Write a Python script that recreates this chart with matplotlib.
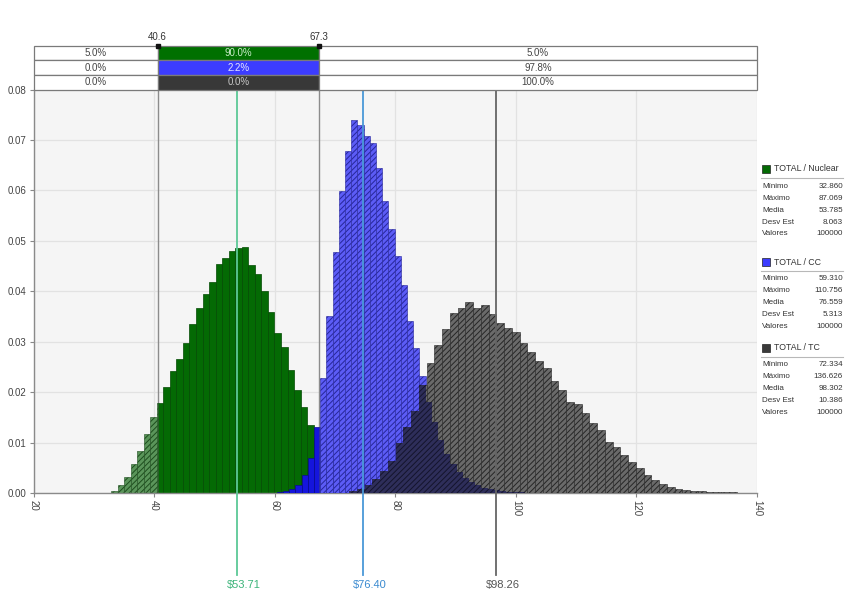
import numpy as np
import matplotlib
matplotlib.use("Agg")
import matplotlib.pyplot as plt
from matplotlib.patches import Rectangle
import matplotlib.transforms as mtransforms

plt.rcParams['font.family'] = ['Liberation Sans', 'DejaVu Sans']
plt.rcParams['hatch.linewidth'] = 0.7

# ---------------- data ----------------
series_names = ['TOTAL / Nuclear', 'TOTAL / CC', 'TOTAL / TC']
series_min = [32.860, 59.310, 72.334]
series_max = [87.069, 110.756, 136.626]
series_mean = [53.785, 76.559, 98.302]
series_std = [8.063, 5.313, 10.386]
series_count = [100000, 100000, 100000]
stat_labels = ['Mínimo', 'Máximo', 'Media', 'Desv Est', 'Valores']

nuclear_density = [0.0003, 0.0015, 0.0032, 0.0057, 0.0083, 0.0116, 0.0151, 0.0178, 0.0210, 0.0241,
                   0.0266, 0.0297, 0.0335, 0.0366, 0.0394, 0.0419, 0.0454, 0.0466, 0.0479, 0.0486,
                   0.0487, 0.0452, 0.0435, 0.0400, 0.0358, 0.0318, 0.0290, 0.0244, 0.0204, 0.0171,
                   0.0135, 0.0110, 0.0090, 0.0072, 0.0056, 0.0043, 0.0032, 0.0024, 0.0017, 0.0012,
                   0.0008, 0.0006, 0.0004, 0.0003, 0.0002, 0.0001, 0.0001, 0.00005, 0.00003, 0.00002]
cc_density = [0.00005, 0.0001, 0.0003, 0.0007, 0.0016, 0.0036, 0.0069, 0.0130, 0.0228, 0.0351,
              0.0477, 0.0598, 0.0679, 0.0740, 0.0729, 0.0707, 0.0694, 0.0644, 0.0578, 0.0524,
              0.0469, 0.0413, 0.0341, 0.0288, 0.0231, 0.0180, 0.0140, 0.0105, 0.0078, 0.0057,
              0.0041, 0.0030, 0.0021, 0.0015, 0.0010, 0.0007, 0.0005, 0.0003, 0.0002, 0.00015,
              0.0001, 0.00007, 0.00005, 0.00003, 0.00002, 0.00002, 0.00001, 0.00001, 0.00001, 0.00001]
tc_density = [0.0003, 0.0007, 0.0015, 0.0027, 0.0044, 0.0063, 0.0099, 0.0130, 0.0163, 0.0215,
              0.0258, 0.0293, 0.0326, 0.0356, 0.0367, 0.0378, 0.0367, 0.0373, 0.0354, 0.0338,
              0.0328, 0.0320, 0.0298, 0.0280, 0.0261, 0.0247, 0.0223, 0.0204, 0.0181, 0.0177,
              0.0158, 0.0139, 0.0125, 0.0102, 0.0092, 0.0075, 0.0062, 0.0049, 0.0036, 0.0026,
              0.0018, 0.0011, 0.0007, 0.0005, 0.0003, 0.0003, 0.0002, 0.0002, 0.0001, 0.0001]

range_low, range_high = 40.6, 67.3
pct_left = ['5.0%', '0.0%', '0.0%']
pct_mid = ['90.0%', '2.2%', '0.0%']
pct_right = ['5.0%', '97.8%', '100.0%']

marker_pos = [53.75, 74.6, 96.7]
marker_labels = ['$53.71', '$76.40', '$98.26']

x_ticks = [20, 40, 60, 80, 100, 120, 140]
y_ticks = [0.00, 0.01, 0.02, 0.03, 0.04, 0.05, 0.06, 0.07, 0.08]

# ---------------- styles ----------------
solid_colors = ['#046a04', '#1515dc', '#3a3a3a']
solid_edges = ['#024a02', '#0a0a90', '#1e1e1e']
hatch_faces = ['#5a955a', '#5c5cf6', '#6a6a6a']
hatch_edges = ['#1d4d1d', '#26269a', '#262626']
cell_colors = ['#007000', '#3c3cff', '#383838']
cell_text_colors = ['#c8ecc8', '#e6e6ff', '#c8c8c8']
line_colors = ['#5cc896', '#4a98d8', '#666666']
label_colors = ['#3cb47a', '#3a8ad0', '#555555']

W, H = 849, 597
def fx(px): return px / W
def fy(py): return 1 - py / H

fig = plt.figure(figsize=(W / 100, H / 100), dpi=100)
ax_l, ax_r, ax_t, ax_b = 33.5, 757, 89.5, 493
ax = fig.add_axes([fx(ax_l), fy(ax_b), fx(ax_r) - fx(ax_l), fy(ax_t) - fy(ax_b)])
ax.set_xlim(20, 140)
ax.set_ylim(0, 0.08)
ax.set_facecolor('#f5f5f5')
ax.set_xticks(x_ticks)
ax.set_yticks(y_ticks)
ax.set_yticklabels([f'{v:.2f}' for v in y_ticks], fontsize=7, color='#444444')
ax.set_xticklabels([str(v) for v in x_ticks], fontsize=7, color='#444444', rotation=-90)
ax.tick_params(axis='both', length=3, width=0.8, color='#888888', pad=2)
ax.grid(True, color='#e2e2e2', lw=0.9, zorder=0)
ax.set_axisbelow(True)
for s in ['top', 'right']:
    ax.spines[s].set_visible(False)
for s in ['left', 'bottom']:
    ax.spines[s].set_color('#8a8a8a')
    ax.spines[s].set_linewidth(1.0)

blend = mtransforms.blended_transform_factory(ax.transData, ax.transAxes)

# range lines (behind bars)
for xv in [range_low, range_high]:
    ax.plot([xv, xv], [0, 1], transform=blend, color='#8c8c8c', lw=1.0, zorder=1.5)

densities = [nuclear_density, cc_density, tc_density]
edges_all = []


def split_bars(edges, heights):
    solid, hatched = [], []
    for i, h in enumerate(heights):
        l, r = edges[i], edges[i + 1]
        if l < range_low:
            hatched.append((l, min(r, range_low) - l, h))
        a, b = max(l, range_low), min(r, range_high)
        if b > a:
            solid.append((a, b - a, h))
        if r > range_high:
            s = max(l, range_high)
            hatched.append((s, r - s, h))
    return solid, hatched


for k, dens in enumerate(densities):
    edges = np.linspace(series_min[k], series_max[k], len(dens) + 1)
    edges_all.append(edges)
    solid, hatched = split_bars(edges, dens)
    z = 2 + k
    if solid:
        ax.bar([s[0] for s in solid], [s[2] for s in solid], width=[s[1] for s in solid],
               align='edge', color=solid_colors[k], edgecolor=solid_edges[k], lw=0.5, zorder=z)
    if hatched:
        ax.bar([s[0] for s in hatched], [s[2] for s in hatched], width=[s[1] for s in hatched],
               align='edge', color=hatch_faces[k], edgecolor=hatch_edges[k], lw=0.4,
               hatch='//////', zorder=z)

# overlap of CC and TC (dark blend)
eb, eg = edges_all[1], edges_all[2]
merged = np.unique(np.concatenate([eb, eg]))
ov_x, ov_w, ov_h = [], [], []
for a, b in zip(merged[:-1], merged[1:]):
    m = 0.5 * (a + b)
    ib = np.searchsorted(eb, m) - 1
    ig = np.searchsorted(eg, m) - 1
    if 0 <= ib < len(cc_density) and 0 <= ig < len(tc_density):
        ov_x.append(a)
        ov_w.append(b - a)
        ov_h.append(min(cc_density[ib], tc_density[ig]))
ax.bar(ov_x, ov_h, width=ov_w, align='edge', color='#2e2e5a', edgecolor='#14142c', lw=0,
       hatch='//////', zorder=5)

# marker lines with labels below axis
for xv, lab, lc, tc in zip(marker_pos, marker_labels, line_colors, label_colors):
    ax.plot([xv, xv], [1, -0.203], transform=blend, color=lc, lw=1.3, zorder=6, clip_on=False)
    ax.text(xv + 1.1, -0.228, lab, transform=blend, ha='center', va='center', fontsize=8,
            color=tc, parse_math=False)

# ---------------- top table ----------------
tab_top = 45.7
tax = fig.add_axes([fx(ax_l), fy(ax_t), fx(ax_r) - fx(ax_l), fy(tab_top) - fy(ax_t)])
tax.set_xlim(20, 140)
tax.set_ylim(0, 3)
tax.axis('off')
cells = [(20, range_low), (range_low, range_high), (range_high, 140)]
for r in range(3):
    y0 = 2 - r
    texts = [pct_left[r], pct_mid[r], pct_right[r]]
    for c, (a, b) in enumerate(cells):
        fc = cell_colors[r] if c == 1 else 'white'
        tax.add_patch(Rectangle((a, y0), b - a, 1, facecolor=fc, edgecolor='#7a7a7a', lw=0.9,
                                clip_on=False))
        col = cell_text_colors[r] if c == 1 else '#444444'
        tax.text(0.5 * (a + b), y0 + 0.48, texts[c], ha='center', va='center', fontsize=7,
                 color=col)
for xv in [range_low, range_high]:
    tax.plot([xv], [3.0], marker='s', ms=3.5, color='#111111', clip_on=False, zorder=5)
    tax.text(xv, 3.25, f'{xv:.1f}', ha='center', va='bottom', fontsize=7, color='#333333')

# ---------------- right stats panel ----------------
headers_y = [169, 262, 348]
for k in range(3):
    hy = headers_y[k]
    fig.patches.append(Rectangle((fx(762), fy(hy + 4)), 8 / W, 8 / H, transform=fig.transFigure,
                                 facecolor=solid_colors[k] if k != 1 else '#3c3cff',
                                 edgecolor='#222222', lw=0.5))
    fig.text(fx(774), fy(hy), series_names[k], fontsize=6.3, color='#333333', va='center', ha='left')
    fig.add_artist(plt.Line2D([fx(761), fx(843)], [fy(hy + 9), fy(hy + 9)], color='#b8b8b8', lw=0.8))
    vals = [f'{series_min[k]:.3f}', f'{series_max[k]:.3f}', f'{series_mean[k]:.3f}',
            f'{series_std[k]:.3f}', f'{series_count[k]}']
    for j, (lab, v) in enumerate(zip(stat_labels, vals)):
        yy = hy + 17 + 12 * j
        fig.text(fx(762), fy(yy), lab, fontsize=5.8, color='#333333', va='center', ha='left')
        fig.text(fx(843), fy(yy), v, fontsize=5.8, color='#333333', va='center', ha='right')

fig.savefig('out.png', dpi=100, facecolor='white')
